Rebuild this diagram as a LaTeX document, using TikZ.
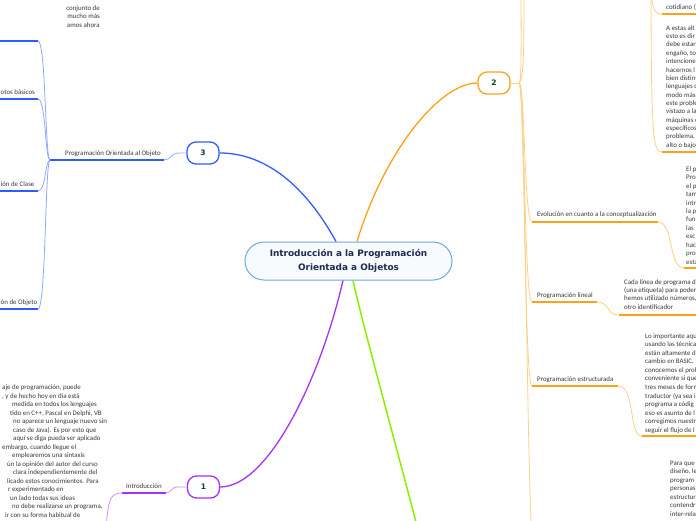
\documentclass[tikz,border=0pt]{standalone}
\usepackage{fontspec}
\setmainfont{Carlito}
\newfontfamily\titlefont{DejaVu Sans}
\definecolor{cblue}{HTML}{2F5BFF}
\definecolor{cbluel}{HTML}{8FA8FF}
\definecolor{corange}{HTML}{FFA01A}
\definecolor{corangel}{HTML}{FFCF85}
\definecolor{cpurple}{HTML}{A533F5}
\definecolor{cpurplel}{HTML}{CF8CFF}
\definecolor{cgreen}{HTML}{88F000}
\definecolor{ctext}{HTML}{383838}
\definecolor{cnum}{HTML}{123D2C}
\definecolor{ctitle}{HTML}{1C2B4F}
\definecolor{cborder}{HTML}{6FA8DC}
\definecolor{cfill}{HTML}{F7FBFE}
\begin{document}
\begin{tikzpicture}[x=1pt,y=-1pt,
  numnode/.style={draw=#1, line width=1.3pt, fill=white, rounded corners=9pt,
    minimum width=32pt, minimum height=22pt, inner sep=0pt,
    font=\titlefont\bfseries\fontsize{7.5}{8}\selectfont, text=cnum},
  body/.style={font=\fontsize{6.9}{8}\selectfont, text=ctext, inner sep=0pt, anchor=base west},
  bodyr/.style={font=\fontsize{6.9}{8}\selectfont, text=ctext, inner sep=0pt, anchor=base east},
  lab/.style={font=\fontsize{6.9}{8}\selectfont, text=ctext, inner sep=0pt},
  bthin/.style={draw=cbluel, line width=0.8pt},
  bthick/.style={draw=cblue, line width=1.7pt},
  othin/.style={draw=corangel, line width=0.8pt},
  othick/.style={draw=corange, line width=1.7pt},
  pthin/.style={draw=cpurplel, line width=0.8pt},
  pthick/.style={draw=cpurple, line width=1.7pt}]
\useasboundingbox (0,0) rectangle (696,520);
\clip (0,0) rectangle (696,520);

% central topic
\node[draw=cborder, line width=1pt, fill=cfill, rounded corners=19pt,
  minimum width=207pt, minimum height=38pt, align=center, text=ctitle,
  font=\titlefont\bfseries\fontsize{8.9}{14}\selectfont] (c) at (348.5,261)
  {Introducción a la Programación\\Orientada a Objetos};

% numbered topics
\node[numnode=cblue] (n3) at (203,153) {3};
\node[numnode=corange] (n2) at (494,83) {2};
\node[numnode=cpurple] (n1) at (203.5,487) {1};
\coordinate (g4) at (418,530);

% main connectors
\draw[cblue, line width=1.3pt] ([xshift=-12.5pt]c.north) .. controls (305,185) and (265,153) .. (n3.east);
\draw[corange, line width=1.3pt] ([xshift=8.5pt]c.north) .. controls (385,150) and (440,83) .. (n2.west);
\draw[cpurple, line width=1.3pt] ([xshift=-5.5pt]c.south) .. controls (320,380) and (268,487) .. (n1.east);
\draw[cgreen, line width=1.5pt] ([xshift=4.5pt]c.south) .. controls (364,330) and (400,460) .. (g4);

% ---------- branch 3 ----------
\coordinate (b3a) at (164,160);
\coordinate (b3h) at (50,160);
\draw[bthin] (n3.west) -- (178,153) .. controls (171,153) and (171,160) .. (b3a);
\draw[bthick] (b3a) -- (b3h);
\node[lab, anchor=base west] (l3) at (65,155.5) {Programación Orientada al Objeto};
\foreach \yy/\nm in {41/a, 99/b, 191/c, 309/d}{
  \coordinate (i3\nm) at (38,\yy);
  \coordinate (i3\nm x) at (-5,\yy);
  \draw[bthin] (b3h) .. controls (45,160) and (46,\yy) .. (i3\nm);
  \draw[bthick] (i3\nm) -- (i3\nm x);
}
\node[body] (l3b) at (0.5,94) {otos básicos};
\node[body] (l3c) at (0.5,186) {ión de Clase};
\node[body] (l3d) at (0.5,304) {ón de Objeto};
\node[bodyr] (t3a) at (100,10) {conjunto de};
\node[bodyr] (t3b) at (100,18.5) {mucho más};
\node[bodyr] (t3c) at (100,27) {amos ahora};

% ---------- branch 1 ----------
\coordinate (b1a) at (166,493);
\coordinate (b1h) at (122,493);
\coordinate (b1e) at (106,530);
\draw[pthin] (n1.west) -- (178,487) .. controls (171,487) and (171,493) .. (b1a);
\draw[pthick] (b1a) -- (b1h);
\draw[pthin] (b1h) .. controls (110,493) and (108,500) .. (b1e);
\node[lab, anchor=base west] (l1) at (126,488) {Introducción};

\foreach \x/\t [count=\i] in {
  2/{aje de programación, puede},
  2/{, y de hecho hoy en día está},
  12/{medida en todos los lenguajes},
  10/{tido en C++, Pascal en Delphi, VB},
  13/{no aparece un lenguaje nuevo sin},
  13/{caso de Java). Es por esto que},
  13/{aquí se diga pueda ser aplicado},
  2/{embargo, cuando llegue el},
  12/{emplearemos una sintaxis},
  7/{ún la opinión del autor del curso},
  13/{clara independientemente del},
  7/{licado estos conocimientos. Para},
  8/{r experimentado en},
  10/{un lado todas sus ideas},
  12/{no debe realizarse un programa,},
  5/{ir con su forma habitual de}}
  \node[body, name=tl\i] at (\x,{381.5+8.47*\i}) {\t};

% ---------- branch 2 ----------
\coordinate (h2) at (519,83);
\draw[othin] (n2.east) -- (h2);
\coordinate (u2a) at (524,-10);
\coordinate (u2b) at (521,-10);
\draw[othin] (h2) .. controls (524,83) and (524,40) .. (u2a);
\draw[othin] (h2) .. controls (522,83) and (521,30) .. (u2b);
\coordinate (e2s) at (532,222);
\coordinate (l2s) at (532,302);
\coordinate (s2s) at (532,386);
\coordinate (d2e) at (532,540);
\draw[othin] (h2) .. controls (525,83) and (524,222) .. (e2s);
\draw[othin] (h2) .. controls (525,83) and (524,302) .. (l2s);
\draw[othin] (h2) .. controls (525,83) and (524,386) .. (s2s);
\draw[othin] (h2) .. controls (525,83) and (527,470) .. (d2e);

\coordinate (e2e) at (658,222); \coordinate (e2t) at (684,268); \coordinate (e2x) at (700,268);
\draw[othick] (e2s) -- (e2e);
\draw[othin] (e2e) .. controls (674,222) and (668,268) .. (e2t);
\draw[othick] (e2t) -- (e2x);
\node[lab, anchor=base west] (l2e) at (537,216.5) {Evolución en cuanto a la conceptualización};

\coordinate (l2e2) at (597,302); \coordinate (l2t) at (619,315); \coordinate (l2x) at (700,315);
\draw[othick] (l2s) -- (l2e2);
\draw[othin] (l2e2) .. controls (610,302) and (606,315) .. (l2t);
\draw[othick] (l2t) -- (l2x);
\node[lab, anchor=base west] (l2l) at (537,297.5) {Programación lineal};

\coordinate (s2e) at (618,386); \coordinate (s2t) at (642,436); \coordinate (s2x) at (700,436);
\draw[othick] (s2s) -- (s2e);
\draw[othin] (s2e) .. controls (636,386) and (628,436) .. (s2t);
\draw[othick] (s2t) -- (s2x);
\node[lab, anchor=base west] (l2s) at (537,381.5) {Programación estructurada};

% top-right sub branches
\coordinate (ht) at (651,-30);
\coordinate (t1) at (662,14); \coordinate (t1x) at (700,14);
\coordinate (t2) at (662,152); \coordinate (t2x) at (700,152);
\draw[othin] (ht) .. controls (651,8) and (653,14) .. (t1);
\draw[othick] (t1) -- (t1x);
\draw[othin] (ht) .. controls (651,140) and (653,152) .. (t2);
\draw[othick] (t2) -- (t2x);
\node[body] (tc) at (666,9.2) {cotidiano (};

\foreach \t [count=\i] in {A estas alt, esto es dir, debe estar, {engaño, to}, intenciones,
  hacernos l, bien distint, lenguajes c, modo más, este proble, vistazo a la,
  máquinas c, específicos, {problema,}, alto o bajo}
  \node[body, name=ta\i] at (666,{21.84+8.36*\i}) {\t};

\foreach \t [count=\i] in {El p, Pro, el p, tam, intr, la p, fun, las, esc, hac, pro, esta}
  \node[body, name=te\i] at (686,{162.75+8.45*\i}) {\t};

\foreach \t [count=\i] in {Cada línea de programa d, (una etiqueta) para poder,
  {hemos utilizado números,}, otro identificador}
  \node[body, name=tn\i] at (624,{275.9+8.3*\i}) {\t};

\foreach \t [count=\i] in {Lo importante aqu, usando las técnica, están altamente d,
  {cambio en BASIC,}, conocemos el prob, conveniente si que, tres meses de form,
  traductor (ya sea i, programa a códig, eso es asunto de l, corregimos nuestr,
  seguir el flujo de l}
  \node[body, name=ts\i] at (645,{329.65+8.55*\i}) {\t};

\foreach \t [count=\i] in {Para que, {diseño, le}, program, personas, estructur,
  contendrí, inter-rela}
  \node[body, name=tp\i] at (670,{456.7+8.5*\i}) {\t};

\end{tikzpicture}
\end{document}
